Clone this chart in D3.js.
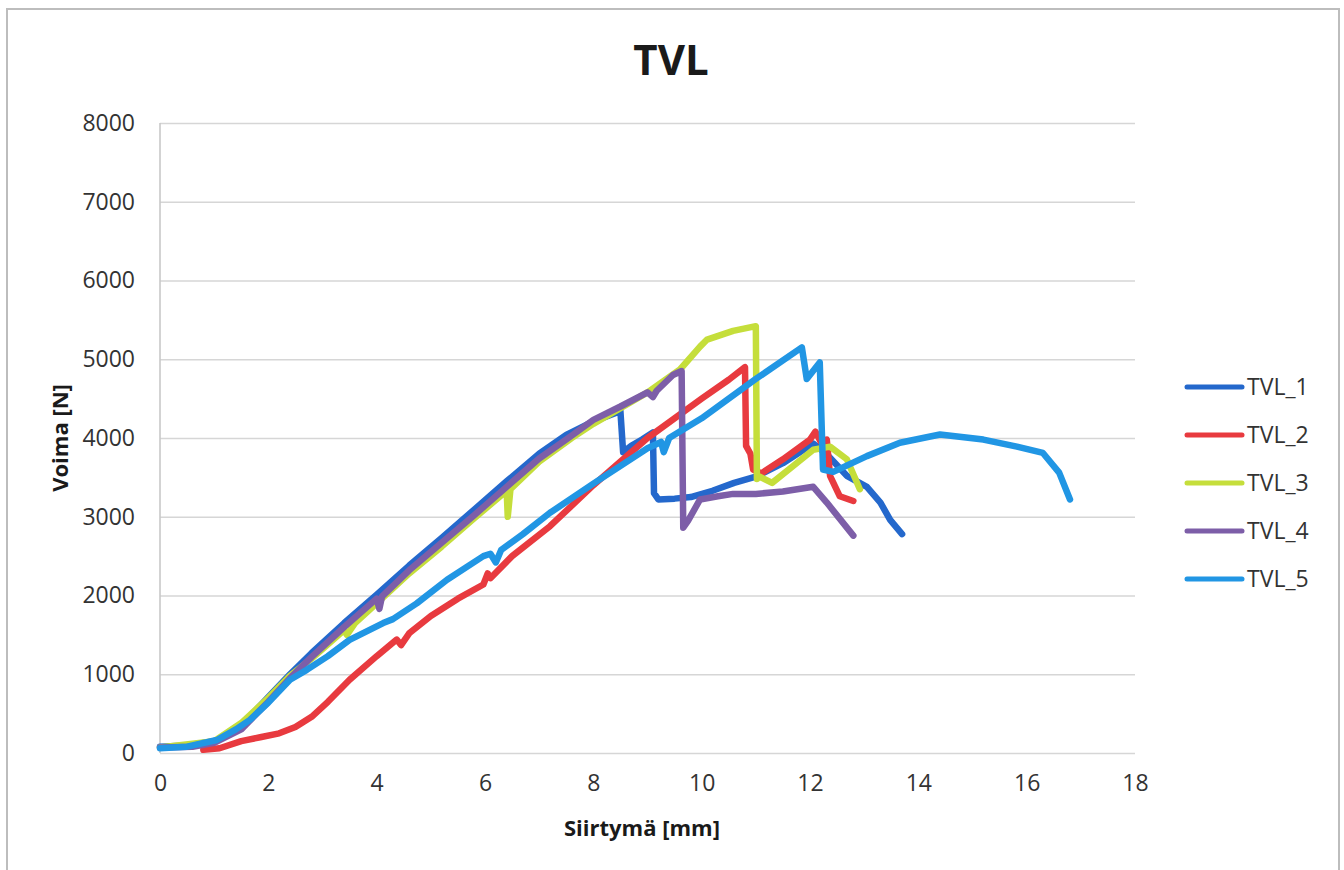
<!DOCTYPE html>
<html>
<head>
<meta charset="utf-8">
<script src="https://cdn.jsdelivr.net/npm/d3@7"></script>
<style>
  body { margin: 0; background: #fff; }
  svg text { font-family: "Open Sans", sans-serif; }
</style>
</head>
<body>
<svg width="1344" height="870"></svg>
<script>
const svg = d3.select("svg");

// series names + colours
const seriesNames = ["TVL_1", "TVL_2", "TVL_3", "TVL_4", "TVL_5"];
const seriesColors = ["#2468cc", "#e83a3f", "#c5de3b", "#7d5ea8", "#2196e4"];

const xTicks = [0, 2, 4, 6, 8, 10, 12, 14, 16, 18];
const yTicks = [0, 1000, 2000, 3000, 4000, 5000, 6000, 7000, 8000];

// displacement [mm] / force [N]
const tvl1X = [0, 0.5, 1.0, 1.3, 1.6, 2.0, 2.4, 2.8, 3.4, 4.0, 4.6, 5.2, 5.8, 6.4, 7.0, 7.5, 8.0, 8.5, 8.55, 8.7, 8.9, 9.1, 9.12, 9.2, 9.5, 9.8, 10.2, 10.6, 11.0, 11.5, 12.06, 12.3, 12.68, 13.05, 13.3, 13.48, 13.7];
const tvl1Y = [80, 95, 150, 240, 420, 710, 1000, 1270, 1650, 2010, 2380, 2730, 3090, 3450, 3800, 4040, 4210, 4340, 3820, 3900, 3980, 4070, 3300, 3220, 3230, 3250, 3330, 3430, 3510, 3680, 3930, 3800, 3520, 3380, 3180, 2960, 2780];

const tvl2X = [0.8, 1.1, 1.5, 1.85, 2.2, 2.5, 2.8, 3.1, 3.5, 4.0, 4.37, 4.45, 4.6, 5.0, 5.5, 5.97, 6.05, 6.1, 6.5, 7.2, 8.0, 9.0, 10.0, 10.5, 10.8, 10.82, 10.9, 10.95, 11.1, 11.5, 12.0, 12.1, 12.2, 12.31, 12.37, 12.55, 12.8];
const tvl2Y = [40, 60, 150, 200, 250, 330, 460, 650, 930, 1230, 1440, 1370, 1520, 1740, 1960, 2140, 2280, 2220, 2500, 2880, 3400, 4000, 4500, 4740, 4900, 3900, 3800, 3600, 3550, 3730, 3980, 4080, 3950, 3980, 3520, 3260, 3200];

const tvl3X = [0, 1.0, 1.5, 2.0, 2.4, 2.8, 3.4, 3.45, 3.6, 4.0, 4.6, 5.2, 5.8, 6.4, 6.42, 6.47, 7.0, 7.6, 8.0, 8.5, 9.0, 9.6, 9.97, 10.1, 10.58, 11.0, 11.02, 11.07, 11.3, 11.7, 12.06, 12.37, 12.68, 12.92];
const tvl3Y = [70, 150, 380, 700, 980, 1200, 1560, 1500, 1650, 1900, 2280, 2620, 2980, 3330, 3000, 3350, 3700, 4000, 4180, 4380, 4580, 4870, 5160, 5250, 5360, 5420, 3480, 3510, 3430, 3650, 3850, 3890, 3730, 3350];

const tvl4X = [0, 0.6, 1.0, 1.5, 2.0, 2.4, 2.8, 3.4, 4.0, 4.05, 4.1, 4.6, 5.2, 5.8, 6.4, 7.0, 7.6, 8.0, 8.5, 9.0, 9.1, 9.17, 9.47, 9.63, 9.66, 9.75, 9.97, 10.3, 10.58, 11.0, 11.5, 12.06, 12.31, 12.8];
const tvl4Y = [70, 80, 130, 300, 650, 950, 1220, 1600, 1960, 1830, 1990, 2320, 2670, 3020, 3380, 3740, 4030, 4230, 4400, 4580, 4520, 4600, 4800, 4850, 2860, 2950, 3220, 3260, 3290, 3290, 3320, 3380, 3180, 2760];

const tvl5X = [0, 0.5, 1.05, 1.4, 1.66, 2.0, 2.4, 2.71, 3.1, 3.5, 4.12, 4.3, 4.74, 5.3, 5.97, 6.1, 6.2, 6.3, 6.7, 7.2, 8.0, 9.0, 9.25, 9.3, 9.4, 10.0, 11.0, 11.85, 11.94, 12.18, 12.24, 12.43, 13.05, 13.66, 14.4, 15.2, 15.82, 16.3, 16.6, 16.8];
const tvl5Y = [60, 80, 165, 300, 420, 640, 930, 1056, 1230, 1437, 1650, 1700, 1900, 2200, 2500, 2530, 2420, 2580, 2780, 3050, 3420, 3870, 3950, 3820, 4000, 4250, 4750, 5150, 4750, 4960, 3600, 3570, 3770, 3940, 4045, 3980, 3890, 3810, 3560, 3220];

const seriesX = [tvl1X, tvl2X, tvl3X, tvl4X, tvl5X];
const seriesY = [tvl1Y, tvl2Y, tvl3Y, tvl4Y, tvl5Y];

const x = d3.scaleLinear().domain([0, 18]).range([160, 1135]);
const y = d3.scaleLinear().domain([0, 8000]).range([753, 123]);

// chart frame
svg.append("rect")
  .attr("x", 7).attr("y", 9)
  .attr("width", 1332).attr("height", 880)
  .attr("fill", "#fff")
  .attr("stroke", "#bdbdbd")
  .attr("stroke-width", 2);

// horizontal gridlines + y labels
let yAxis = svg.append("g")
  .attr("transform", "translate(160,0)")
  .call(d3.axisLeft(y).tickValues(yTicks).tickSize(-975).tickPadding(25).tickFormat(d3.format("d")));
yAxis.select(".domain").remove();
yAxis.selectAll("line").attr("stroke", "#d6d6d6").attr("stroke-width", 1.6);
yAxis.selectAll("text").attr("font-size", 23).attr("fill", "#333").attr("font-family", "Open Sans");

// vertical axis line
svg.append("line")
  .attr("x1", x(0)).attr("x2", x(0))
  .attr("y1", y(8000)).attr("y2", y(0))
  .attr("stroke", "#c8c8c8").attr("stroke-width", 1.6);

// x labels
let xAxis = svg.append("g")
  .attr("transform", "translate(0,753)")
  .call(d3.axisBottom(x).tickValues(xTicks).tickSize(0).tickPadding(22).tickFormat(d3.format("d")));
xAxis.select(".domain").remove();
xAxis.selectAll("text").attr("font-size", 23).attr("fill", "#333").attr("font-family", "Open Sans");

// series
const line = d3.line()
  .x(d => x(d[0]))
  .y(d => y(d[1]));

seriesNames.forEach((name, i) => {
  let pts = seriesX[i].map((v, j) => [v, seriesY[i][j]]);
  svg.append("path")
    .datum(pts)
    .attr("d", line)
    .attr("fill", "none")
    .attr("stroke", seriesColors[i])
    .attr("stroke-width", 6.5)
    .attr("stroke-linejoin", "round")
    .attr("stroke-linecap", "round");
});

// title
svg.append("text")
  .attr("x", 671).attr("y", 75)
  .attr("text-anchor", "middle")
  .attr("font-size", 42).attr("font-weight", "bold")
  .attr("fill", "#1a1a1a")
  .text("TVL");

// axis titles
svg.append("text")
  .attr("transform", "translate(68,438) rotate(-90)")
  .attr("text-anchor", "middle")
  .attr("font-size", 22).attr("font-weight", "bold")
  .attr("fill", "#1a1a1a")
  .text("Voima [N]");

svg.append("text")
  .attr("x", 642).attr("y", 836)
  .attr("text-anchor", "middle")
  .attr("font-size", 22).attr("font-weight", "bold")
  .attr("fill", "#1a1a1a")
  .text("Siirtymä [mm]");

// legend
let legend = svg.append("g");
seriesNames.forEach((name, i) => {
  let ly = 387 + i * 48;
  legend.append("line")
    .attr("x1", 1187).attr("x2", 1242)
    .attr("y1", ly).attr("y2", ly)
    .attr("stroke", seriesColors[i])
    .attr("stroke-width", 5)
    .attr("stroke-linecap", "round");
  legend.append("text")
    .attr("x", 1247).attr("y", ly)
    .attr("dy", "0.36em")
    .attr("font-size", 23)
    .attr("fill", "#333")
    .text(name);
});
</script>
</body>
</html>
